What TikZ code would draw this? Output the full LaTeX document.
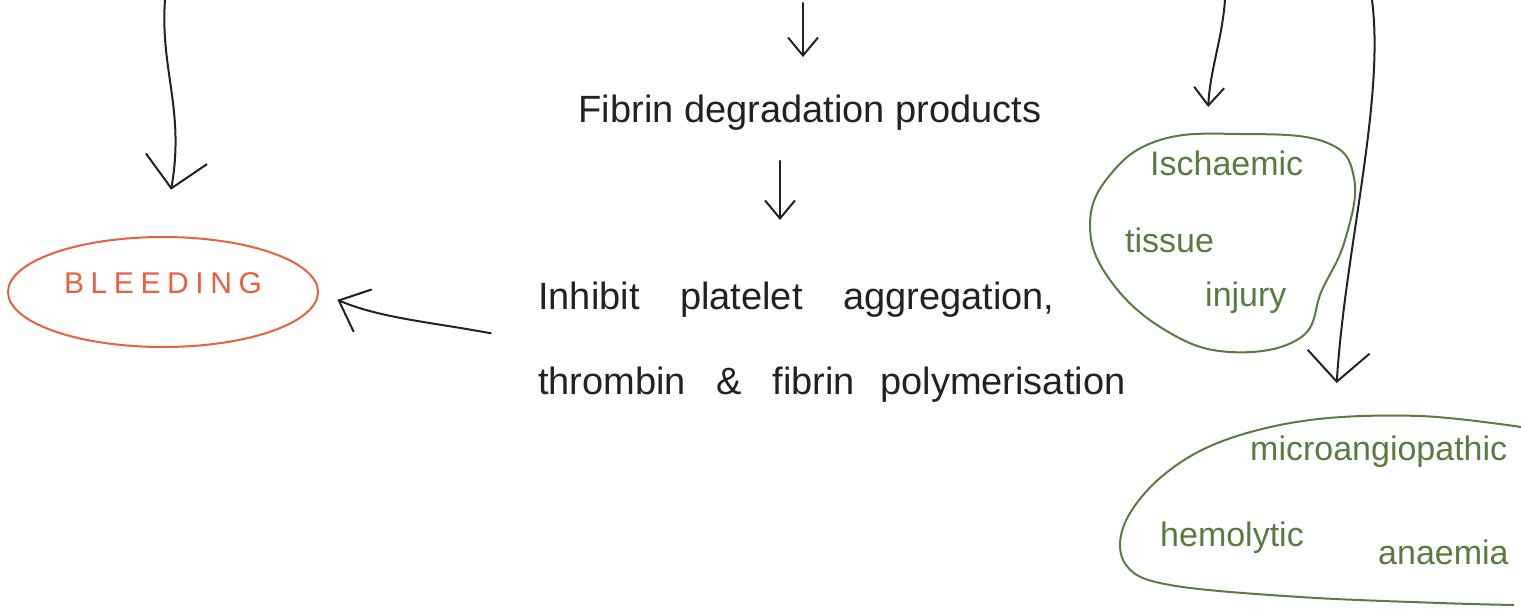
\documentclass[tikz,border=0pt]{standalone}
\usepackage{fontspec}
\setmainfont{Liberation Sans}
\usetikzlibrary{arrows.meta,shapes.geometric}
\definecolor{inkred}{HTML}{EB5E3F}
\definecolor{inkgreen}{HTML}{587B3F}
\definecolor{ink}{HTML}{222222}
\tikzset{
  pen/.style={line width=2pt, ink, line cap=round, line join=round},
  bigtip/.style={-{Straight Barb[length=30pt,width=62pt,line width=2pt]}},
  smalltip/.style={-{Straight Barb[length=18pt,width=30pt,line width=2pt]}},
  midtip/.style={-{Straight Barb[length=26pt,width=46pt,line width=2pt]}},
  txt/.style={ink, font=\fontsize{38}{44}\selectfont, inner sep=0pt},
  gtxt/.style={inkgreen, font=\fontsize{34}{40}\selectfont, inner sep=0pt, anchor=west},
  blob/.style={inkgreen, line width=2pt},
}
\begin{document}
\begin{tikzpicture}[x=1pt,y=-1pt]
\useasboundingbox (0,0) rectangle (1521,608);
% nodes
\node[ellipse, draw=inkred, line width=2pt, minimum width=310pt, minimum height=110pt, inner sep=0pt,
      text=inkred, font=\fontsize{30}{34}\selectfont\addfontfeature{LetterSpace=22}] (bleed) at (163,292)
      {\raisebox{18pt}{BLEEDING}};
\node[txt] (fdp) at (810,113) {Fibrin degradation products};
\node[txt, anchor=west, align=left, font=\fontsize{38}{85}\selectfont] (inh) at (538,342)
      {Inhibit\hspace{30pt} platelet\hspace{30pt} aggregation,\\thrombin\hspace{20pt} \&\hspace{20pt} fibrin\hspace{15pt} polymerisation};
% ischaemic blob
\draw[blob] plot[smooth cycle, tension=0.7] coordinates {(1160,140) (1240,134) (1325,142) (1354,178) (1345,240) (1322,290) (1300,338) (1230,352) (1165,330) (1110,280) (1090,225) (1110,175)};
\node[gtxt] (isch1) at (1150,163) {Ischaemic};
\node[gtxt] (isch2) at (1125,240) {tissue};
\node[gtxt] (isch3) at (1205,298) {injury};
\coordinate (ischtop) at (1207,132);
% microangiopathic blob
\draw[blob] plot[smooth, tension=0.6] coordinates {(1521,427) (1420,416) (1310,420) (1220,442) (1160,478) (1124,525) (1126,565) (1170,585) (1300,597) (1440,603) (1514,605)};
\node[gtxt] (micro1) at (1250,452) {microangiopathic};
\node[gtxt] (micro2) at (1160,538) {hemolytic};
\node[gtxt] (micro3) at (1378,552) {anaemia};
\coordinate (microtop) at (1335,410);
% free top ends
\coordinate (t1) at (165,0);
\coordinate (t2) at (803,3);
\coordinate (t3) at (1225,0);
\coordinate (t4) at (1372,0);
% connectors
\draw[pen, bigtip, shorten >=47pt] (t1) .. controls (160,70) and (185,110) .. (bleed.north);
\draw[pen, smalltip, shorten >=38pt] (t2) -- (fdp.north -| t2);
\draw[pen, smalltip, shorten <=30pt, shorten >=50pt] (fdp.south -| 780,0) -- (780,270);
\draw[pen, midtip, shorten <=48pt, shorten >=20pt] (inh.west) .. controls (430,322) and (380,318) .. (bleed.east);
\draw[pen, smalltip, shorten >=25pt] (t3) .. controls (1222,40) and (1210,70) .. (ischtop);
\draw[pen, bigtip, shorten >=27pt] (t4) .. controls (1385,100) and (1345,250) .. (microtop);
\end{tikzpicture}
\end{document}
